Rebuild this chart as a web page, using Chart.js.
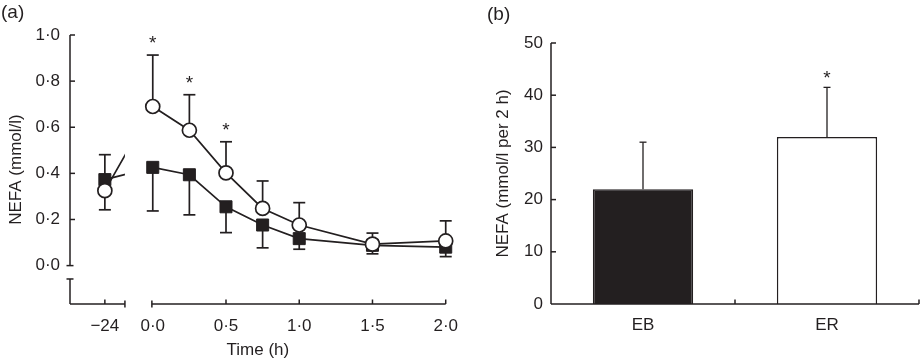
<!DOCTYPE html>
<html><head><meta charset="utf-8">
<script src="https://cdn.jsdelivr.net/npm/chart.js@4.4.1/dist/chart.umd.min.js"></script>
<style>
html,body{margin:0;padding:0;background:#fff;}
#wrap{position:relative;width:921px;height:361px;overflow:hidden;}
.pane{position:absolute;top:0;height:361px;}
</style></head><body>
<div id="wrap">
  <div class="pane" style="left:0;width:470px"><canvas id="ca" width="470" height="361"></canvas></div>
  <div class="pane" style="left:470px;width:451px"><canvas id="cb" width="451" height="361"></canvas></div>
</div>
<script>
// ---------- data: panel (a) ----------
const timeH   = [-24, 0, 0.25, 0.5, 0.75, 1.0, 1.5, 2.0];
const ebMean  = [0.373, 0.426, 0.394, 0.255, 0.176, 0.117, 0.088, 0.080];
const ebSD    = [0.108, 0.189, 0.174, 0.112, 0.099, 0.046, 0.037, 0.041];
const ebDir   = [1, -1, -1, -1, -1, -1, -1, -1];
const erMean  = [0.325, 0.690, 0.587, 0.402, 0.248, 0.176, 0.093, 0.107];
const erSD    = [0.083, 0.223, 0.154, 0.135, 0.119, 0.097, 0.048, 0.087];
const erDir   = [-1, 1, 1, 1, 1, 1, 1, 1];
const erSig   = [false, true, true, true, false, false, false, false];
const yTicksA = [0, 0.2, 0.4, 0.6, 0.8, 1.0];
const xTicksA = [-24, 0, 0.5, 1.0, 1.5, 2.0];
// ---------- data: panel (b) ----------
const groups  = ['EB', 'ER'];
const aucMean = [22, 32];
const aucSD   = [9, 9.5];
const aucSig  = [false, true];
const yTicksB = [0, 10, 20, 30, 40, 50];

const INK = '#231f20';
const FONT = "'Liberation Sans', Arial, Helvetica, sans-serif";
Chart.defaults.font.family = FONT;
Chart.defaults.color = INK;

// broken time axis: the -24 h baseline sits left of the break
const BASE_POS = -0.327, BREAK_L = -0.19, BREAK_R = -0.006;
const Y_BREAK = -0.058;
const axisX = t => (t < 0 ? BASE_POS : t);
const fmt = v => v.toFixed(1).replace('.', '\u00b7');
const pts = arr => arr.map((v, i) => ({x: axisX(timeH[i]), y: v}));

function capLine(ctx, x1, y1, x2, y2){ctx.beginPath();ctx.moveTo(x1,y1);ctx.lineTo(x2,y2);ctx.stroke();}

const pluginA = {
  id: 'pluginA',
  beforeDatasetsDraw(chart){
    const {ctx, scales:{x, y}} = chart;
    ctx.save(); ctx.strokeStyle = INK; ctx.lineWidth = 1.7;
    const bar = (t, m, sd, dir) => {
      const px = x.getPixelForValue(axisX(t));
      const p0 = y.getPixelForValue(m), p1 = y.getPixelForValue(m + dir*sd);
      capLine(ctx, px, p0, px, p1);
      capLine(ctx, px-6, p1, px+6, p1);
    };
    timeH.forEach((t,i)=>{ bar(t, ebMean[i], ebSD[i], ebDir[i]); bar(t, erMean[i], erSD[i], erDir[i]); });
    // axes
    ctx.lineWidth = 1.5;
    const L = chart.chartArea.left, B = chart.chartArea.bottom, R = chart.chartArea.right;
    const yTop = y.getPixelForValue(1.0), y0 = y.getPixelForValue(0), yb = y.getPixelForValue(Y_BREAK);
    capLine(ctx, L, yTop, L, y0);
    capLine(ctx, L-3.5, y0, L+3.5, y0);
    capLine(ctx, L, yb, L, B);
    capLine(ctx, L-3.5, yb, L+3.5, yb);
    yTicksA.forEach(v => { if (v > 0) { const p = y.getPixelForValue(v); capLine(ctx, L, p, L+5, p); } });
    const xl = x.getPixelForValue(BREAK_L), xr = x.getPixelForValue(BREAK_R);
    capLine(ctx, L, B, xl, B);
    capLine(ctx, xl, B-3.5, xl, B+3.5);
    capLine(ctx, xr, B, R, B);
    capLine(ctx, xr, B-3.5, xr, B+3.5);
    xTicksA.forEach(t => { if (t !== 0) { const p = x.getPixelForValue(axisX(t)); capLine(ctx, p, B, p, B-4.5); } });
    ctx.restore();
  },
  beforeDatasetDraw(chart, args){
    if (chart.data.datasets[args.index].isLine) {
      const {ctx, chartArea:{top, bottom, left, right}, scales:{x}} = chart;
      const xl = x.getPixelForValue(BREAK_L), xr = x.getPixelForValue(BREAK_R);
      ctx.save(); ctx.beginPath();
      ctx.rect(left-20, top-20, xl-left+20, bottom-top+40);
      ctx.rect(xr, top-20, right-xr+20, bottom-top+40);
      ctx.clip();
    }
  },
  afterDatasetDraw(chart, args){
    if (chart.data.datasets[args.index].isLine) chart.ctx.restore();
  },
  afterDraw(chart){
    const {ctx, scales:{x, y}} = chart;
    ctx.save(); ctx.fillStyle = INK; ctx.textAlign = 'center'; ctx.textBaseline = 'alphabetic';
    ctx.font = '19px ' + FONT;
    timeH.forEach((t,i)=>{ if (erSig[i]) {
      const px = x.getPixelForValue(axisX(t)), p1 = y.getPixelForValue(erMean[i] + erSD[i]);
      ctx.fillText('*', px, p1 - 6);
    }});
    ctx.textAlign = 'left'; ctx.font = '19px ' + FONT; ctx.textBaseline = 'middle';
    ctx.fillText('(a)', 1, 13);
    ctx.restore();
  }
};

new Chart(document.getElementById('ca'), {
  type: 'scatter',
  data: { datasets: [
    {label:'ER', data: pts(erMean), showLine:false, pointStyle:'circle', pointRadius:7, pointHoverRadius:7,
     pointBackgroundColor:'#fff', pointBorderColor:INK, pointBorderWidth:1.7, order:0, clip:false},
    {label:'EB', data: pts(ebMean), showLine:false, pointStyle:'rect', pointRadius:8.5, pointHoverRadius:8.5,
     pointBackgroundColor:INK, pointBorderColor:INK, pointBorderWidth:1, order:1, clip:false},
    {label:'ER line', isLine:true, data: pts(erMean), showLine:true, borderColor:INK, borderWidth:1.7, pointRadius:0, order:2, clip:false},
    {label:'EB line', isLine:true, data: pts(ebMean), showLine:true, borderColor:INK, borderWidth:1.7, pointRadius:0, order:3, clip:false}
  ]},
  options: {
    responsive:false, animation:false, devicePixelRatio:1,
    layout:{padding:{top:35, right:22, left:0, bottom:0}},
    plugins:{legend:{display:false}, tooltip:{enabled:false}},
    scales:{
      x:{type:'linear', min:-0.565, max:2.0,
         afterBuildTicks: s => { s.ticks = xTicksA.map(t => ({value: axisX(t)})); },
         afterFit: s => { s.height = 57; },
         grid:{display:false, drawTicks:false}, border:{display:false},
         ticks:{padding:12, font:{size:17}, color:INK, maxRotation:0, autoSkip:false,
                callback: v => (v === BASE_POS ? '\u221224' : fmt(v))},
         title:{display:true, text:'Time (h)', font:{size:17}, color:INK, padding:{top:0, bottom:0}}},
      y:{type:'linear', min:-0.1665, max:1.0,
         afterBuildTicks: s => { s.ticks = yTicksA.map(v => ({value: v})); },
         afterFit: s => { s.width = 70; },
         grid:{display:false, drawTicks:false}, border:{display:false},
         ticks:{padding:10, font:{size:17}, color:INK, callback: v => fmt(v)},
         title:{display:true, text:'NEFA (mmol/l)', font:{size:17}, color:INK, padding:{top:6, bottom:0}}}
    }
  },
  plugins:[pluginA]
});

const pluginB = {
  id: 'pluginB',
  afterDatasetsDraw(chart){
    const {ctx, scales:{x, y}} = chart;
    ctx.save(); ctx.strokeStyle = INK; ctx.lineWidth = 1.3;
    groups.forEach((g,i)=>{
      const px = x.getPixelForValue(i), p0 = y.getPixelForValue(aucMean[i]), p1 = y.getPixelForValue(aucMean[i] + aucSD[i]);
      capLine(ctx, px, p0, px, p1); capLine(ctx, px-3.5, p1, px+3.5, p1);
    });
    ctx.lineWidth = 1.5;
    const L = chart.chartArea.left, B = chart.chartArea.bottom, R = chart.chartArea.right;
    capLine(ctx, L, y.getPixelForValue(50), L, B);
    yTicksB.forEach(v => { if (v > 0) { const p = y.getPixelForValue(v); capLine(ctx, L, p, L+5, p); } });
    capLine(ctx, L, B, R, B);
    for (let i = 0; i < groups.length; i++) {
      const p = i < groups.length - 1 ? (x.getPixelForValue(i) + x.getPixelForValue(i+1)) / 2 : R;
      capLine(ctx, p, B, p, B-4.5);
    }
    ctx.fillStyle = INK; ctx.textAlign = 'center'; ctx.textBaseline = 'alphabetic';
    ctx.font = '19px ' + FONT;
    groups.forEach((g,i)=>{ if (aucSig[i]) {
      ctx.fillText('*', x.getPixelForValue(i), y.getPixelForValue(aucMean[i] + aucSD[i]) - 3);
    }});
    ctx.textAlign = 'left'; ctx.textBaseline = 'middle';
    ctx.fillText('(b)', 17, 15);
    ctx.restore();
  }
};

new Chart(document.getElementById('cb'), {
  type: 'bar',
  data: { labels: groups, datasets: [{
    label:'NEFA AUC', data: aucMean, backgroundColor:[INK, '#ffffff'], borderColor:INK, borderWidth:1.5,
    barPercentage:0.545, categoryPercentage:1.0
  }]},
  options: {
    responsive:false, animation:false, devicePixelRatio:1,
    layout:{padding:{top:43, right:2, left:0, bottom:0}},
    plugins:{legend:{display:false}, tooltip:{enabled:false}},
    scales:{
      x:{grid:{display:false, drawTicks:false}, border:{display:false},
         afterFit: s => { s.height = 57; },
         ticks:{padding:11, font:{size:17}, color:INK}},
      y:{min:0, max:50,
         afterBuildTicks: s => { s.ticks = yTicksB.map(v => ({value: v})); },
         afterFit: s => { s.width = 81; },
         grid:{display:false, drawTicks:false}, border:{display:false},
         ticks:{padding:8, font:{size:17}, color:INK},
         title:{display:true, text:'NEFA (mmol/l per 2 h)', font:{size:17}, color:INK, padding:{top:23, bottom:0}}}
    }
  },
  plugins:[pluginB]
});
</script>
</body></html>
